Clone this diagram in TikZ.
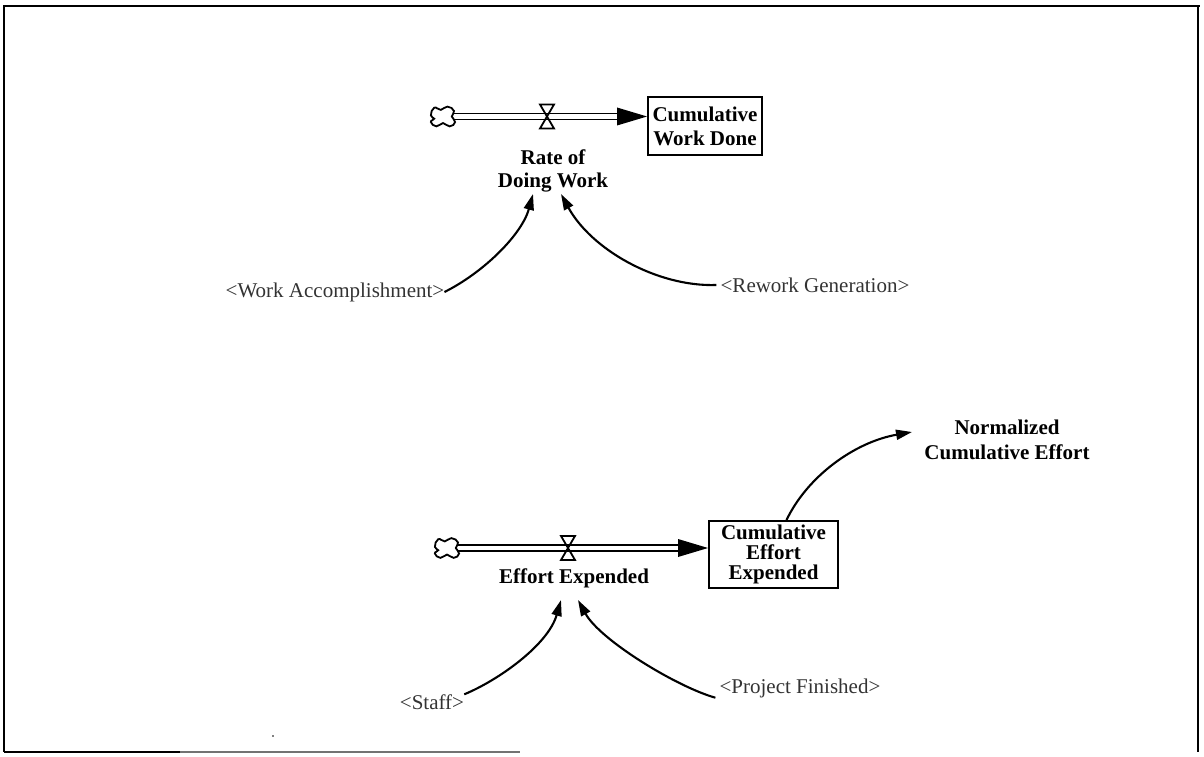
\documentclass[tikz,border=0pt]{standalone}
\usepackage{fontspec}
\setmainfont{Liberation Serif}
\usetikzlibrary{arrows.meta}
\begin{document}
\begin{tikzpicture}[x=1pt,y=-1pt,
  lbl/.style={font=\fontsize{21}{23}\selectfont\bfseries, align=center, inner sep=0pt},
  shadowvar/.style={font=\fontsize{21}{23}\selectfont, text=black!80, inner sep=0pt},
  stock/.style={draw, line width=1.9pt, align=center, inner sep=0pt},
  pipe/.style={double, double distance=4.5pt, line width=1.7pt},
  link/.style={line width=2.1pt, -{Triangle[length=16pt,width=10pt]}},
  cloudpic/.pic={\draw[line width=1.8pt, fill=white, scale=1.1] plot[smooth cycle, tension=0.9]
      coordinates {(-11,-1) (-8,-8) (-2,-6) (4,-9) (10,-5) (8,0) (11,5) (6,9) (0,6) (-6,9) (-11,5) (-8,2)};},
  valvepic/.pic={\draw[line width=1.8pt, line join=miter] (-7,-12) -- (7,-12) -- (-7,12) -- (7,12) -- cycle;}
]
\useasboundingbox (0,0) rectangle (1204,757);

% frame
\draw[line width=2.8pt] (3,6) -- (1200,6);
\draw[line width=1.6pt] (4,6) -- (4,752);
\draw[line width=1.6pt] (1198,6) -- (1198,752);
\draw[line width=1.8pt] (4,752) -- (180,752);
\draw[line width=1.5pt, black!55] (180,752) -- (520,752);
\fill (273,736) circle (0.9);

% ---- work done stock and flow ----
\coordinate (cloudA) at (443,116.5);
\node[stock, font=\fontsize{21}{24}\selectfont\bfseries, minimum width=114pt, minimum height=58pt] (stockA) at (705,126) {Cumulative\\Work Done};
\coordinate (tipA) at (stockA.west |- cloudA);
\draw[pipe] ([xshift=11pt]cloudA) -- ([xshift=-26pt]tipA);
\fill (tipA) -- ([shift={(-30,-9)}]tipA) -- ([shift={(-30,9)}]tipA) -- cycle;
\pic at (cloudA) {cloudpic};
\coordinate (valveA) at (547,116.5);
\pic at (valveA) {valvepic};
\node[lbl] (rateA) at (553,171) {Rate of\\Doing Work};

\node[shadowvar] (wa) at (335,292) {<Work Accomplishment>};
\node[shadowvar] (rework) at (815,285) {<Rework Generation>};
\draw[link] (wa.east) .. controls +(40,-20) and +(-11,40) .. ([shift={(-20,23)}]rateA.center);
\draw[link] ([xshift=-4pt]rework.west) .. controls +(-60,2) and +(30,55) .. ([shift={(8,23)}]rateA.center);

% ---- effort stock and flow ----
\coordinate (cloudB) at (447,548);
\node[stock, font=\fontsize{21}{20}\selectfont\bfseries, minimum width=129pt, minimum height=67pt] (stockB) at (773.5,554.5) {Cumulative\\Effort\\Expended};
\coordinate (tipB) at (stockB.west |- cloudB);
\draw[pipe] ([xshift=11pt]cloudB) -- ([xshift=-26pt]tipB);
\fill (tipB) -- ([shift={(-30,-9)}]tipB) -- ([shift={(-30,9)}]tipB) -- cycle;
\pic at (cloudB) {cloudpic};
\coordinate (valveB) at (568,548);
\pic at (valveB) {valvepic};
\node[lbl] (effort) at (574,578) {Effort Expended};

\node[lbl, font=\fontsize{21}{25}\selectfont\bfseries] (norm) at (1007,440) {Normalized\\Cumulative Effort};
\draw[link] ([xshift=13pt]stockB.north) .. controls +(21,-44) and +(-57,10) .. ([shift={(-95,-8)}]norm.center);

\node[shadowvar] (staff) at (432,702) {<Staff>};
\node[shadowvar] (projfin) at (800,688) {<Project Finished>};
\draw[link] (staff.north east) .. controls +(34,-14) and +(-13,45) .. ([shift={(-13,22)}]effort.center);
\draw[link] ([xshift=-4pt]projfin.south west) .. controls +(-39,-11) and +(22,40) .. ([shift={(4,22)}]effort.center);
\end{tikzpicture}
\end{document}
